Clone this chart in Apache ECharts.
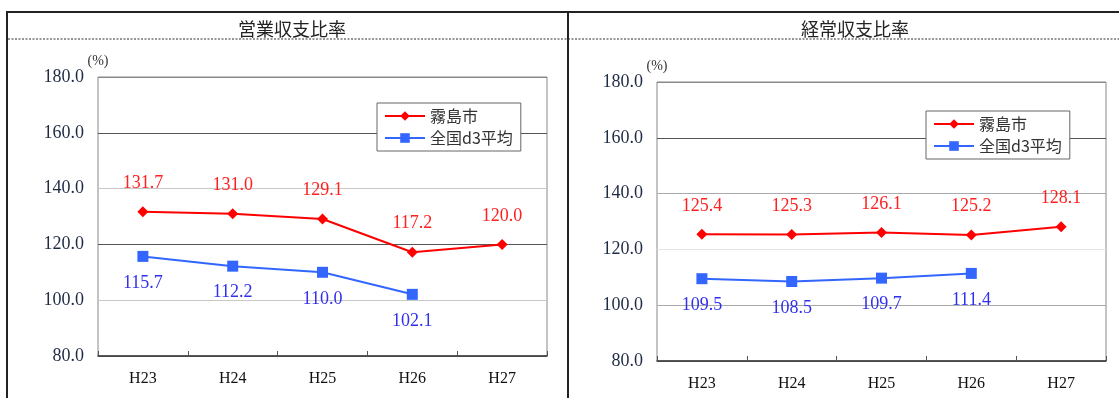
<!DOCTYPE html>
<html>
<head>
<meta charset="utf-8">
<script src="https://cdn.jsdelivr.net/npm/echarts@6/dist/echarts.min.js"></script>
<style>
  html, body { margin: 0; padding: 0; background: #fff; }
  #chart { width: 1119px; height: 398px; }
</style>
</head>
<body>
<div id="chart"></div>
<script>
// Fiscal years
const categories = ['H23', 'H24', 'H25', 'H26', 'H27'];

// 営業収支比率 (%)
const opKirishima = [131.7, 131.0, 129.1, 117.2, 120.0];
const opNational = [115.7, 112.2, 110.0, 102.1, null];

// 経常収支比率 (%)
const ordKirishima = [125.4, 125.3, 126.1, 125.2, 128.1];
const ordNational = [109.5, 108.5, 109.7, 111.4, null];

const seriesNames = ['霧島市', '全国d3平均'];
const panelTitles = ['営業収支比率', '経常収支比率'];

const Y_MIN = 80, Y_MAX = 180, Y_STEP = 20;

const SERIF = '"Liberation Serif", "DejaVu Serif", serif';
const CJK = '"Noto Sans CJK JP", sans-serif';
const RED = '#ff0000';
const BLUE = '#3366ff';

const chart = echarts.init(document.getElementById('chart'), null, { renderer: 'canvas' });

function xAxis(gridIndex) {
  return {
    type: 'category',
    gridIndex,
    data: categories,
    boundaryGap: true,
    axisLine: { lineStyle: { color: '#333', width: 1.5 } },
    axisTick: { show: true, inside: true, length: 5, lineStyle: { color: '#555' } },
    axisLabel: { color: '#111', fontFamily: SERIF, fontSize: 16, margin: 15 }
  };
}

function yAxis(gridIndex, lineColors) {
  return {
    type: 'value',
    gridIndex,
    min: Y_MIN,
    max: Y_MAX,
    interval: Y_STEP,
    name: '(%)',
    nameLocation: 'end',
    nameGap: 5,
    nameTextStyle: { color: '#333', fontFamily: SERIF, fontSize: 14 },
    axisLine: { show: false },
    axisTick: { show: false },
    axisLabel: {
      color: '#1e2a44',
      fontFamily: SERIF,
      fontSize: 18,
      margin: 14,
      formatter: v => v.toFixed(1)
    },
    splitLine: { show: true, lineStyle: { color: lineColors, width: 1 } }
  };
}

function lineSeries(name, data, axisIndex, color, symbol, symbolSize, labelColor, labelPos, labelDist) {
  return {
    name,
    type: 'line',
    xAxisIndex: axisIndex,
    yAxisIndex: axisIndex,
    data,
    symbol,
    symbolSize,
    connectNulls: false,
    lineStyle: { color, width: 2 },
    itemStyle: { color },
    label: {
      show: true,
      position: labelPos,
      distance: labelDist,
      color: labelColor,
      fontFamily: SERIF,
      fontSize: 18,
      formatter: p => (p.value == null ? '' : Number(p.value).toFixed(1))
    },
    emphasis: { disabled: true },
    animation: false
  };
}

function legend(left, top, names) {
  return {
    data: names,
    orient: 'vertical',
    left,
    top,
    width: 139,
    padding: [5, 8, 5, 7],
    itemGap: 6,
    itemWidth: 40,
    itemHeight: 12,
    borderColor: '#666',
    borderWidth: 1,
    borderRadius: 0,
    backgroundColor: '#fff',
    textStyle: { color: '#333', fontFamily: CJK, fontSize: 16 },
    selectedMode: false
  };
}

// Panel frames: top rule, left edge, divider between panels, dotted rule under the titles
const frame = [
  { type: 'line', shape: { x1: 6, y1: 12, x2: 1119, y2: 12 }, style: { stroke: '#222', lineWidth: 2 } },
  { type: 'line', shape: { x1: 7, y1: 12, x2: 7, y2: 398 }, style: { stroke: '#222', lineWidth: 2 } },
  { type: 'line', shape: { x1: 568, y1: 12, x2: 568, y2: 398 }, style: { stroke: '#222', lineWidth: 2 } },
  { type: 'line', shape: { x1: 8, y1: 39, x2: 1119, y2: 39 }, style: { stroke: '#333', lineWidth: 1.2, lineDash: [2, 1.5] } }
];

chart.setOption({
  backgroundColor: '#fff',
  animation: false,
  title: [
    { text: panelTitles[0], left: 287, top: 15, textAlign: 'center',
      textStyle: { fontFamily: CJK, fontSize: 18, fontWeight: 'normal', color: '#222' } },
    { text: panelTitles[1], left: 850, top: 15, textAlign: 'center',
      textStyle: { fontFamily: CJK, fontSize: 18, fontWeight: 'normal', color: '#222' } }
  ],
  graphic: frame,
  grid: [
    { left: 98, top: 77, width: 449, height: 279, show: true, borderColor: '#888', borderWidth: 1, backgroundColor: '#fff' },
    { left: 657, top: 82, width: 449, height: 279, show: true, borderColor: '#888', borderWidth: 1, backgroundColor: '#fff' }
  ],
  legend: [
    legend(377, 103, seriesNames),
    legend(926, 111, seriesNames)
  ],
  xAxis: [xAxis(0), xAxis(1)],
  yAxis: [
    yAxis(0, ['#888', '#c8c8c8', '#555', '#c8c8c8', '#555', '#888']),
    yAxis(1, ['#888', '#aaa', '#e4e4e4', '#aaa', '#555', '#888'])
  ],
  series: [
    lineSeries(seriesNames[0], opKirishima, 0, RED, 'diamond', 11, '#ff2020', 'top', 14),
    lineSeries(seriesNames[1], opNational, 0, BLUE, 'rect', 11, '#3030ee', 'bottom', 12),
    lineSeries(seriesNames[0], ordKirishima, 1, RED, 'diamond', 11, '#ff2020', 'top', 14),
    lineSeries(seriesNames[1], ordNational, 1, BLUE, 'rect', 11, '#3030ee', 'bottom', 12)
  ]
});
</script>
</body>
</html>
